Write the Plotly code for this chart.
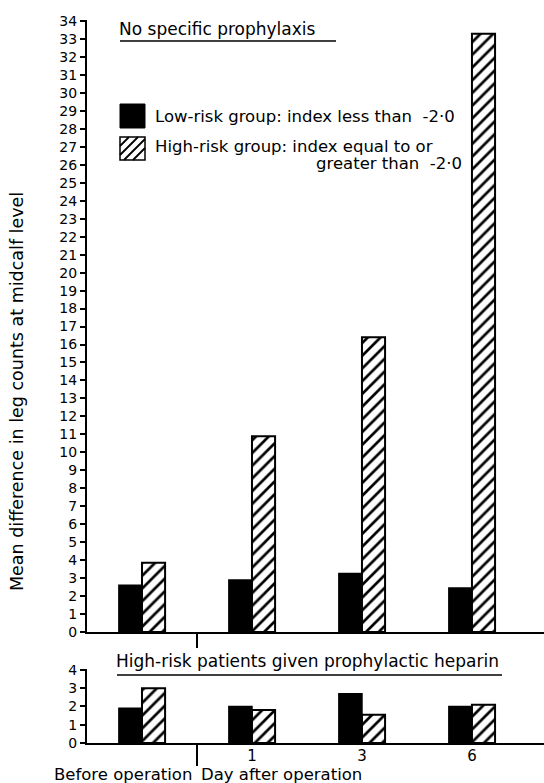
import plotly.graph_objects as go

# ---- data ----
categories = ["Before operation", "1", "3", "6"]
day_labels = ["1", "3", "6"]
low_risk_no_prophylaxis = [2.6, 2.9, 3.25, 2.45]
high_risk_no_prophylaxis = [3.85, 10.9, 16.4, 33.3]
low_risk_heparin = [1.9, 2.0, 2.7, 2.0]
high_risk_heparin = [3.0, 1.8, 1.55, 2.1]

W, H = 544, 783
FONT = "DejaVu Sans"


def px(x):
    return x / W


def py(y):
    return 1 - y / H


xpos = list(range(len(categories)))

hatch = dict(shape="/", fgcolor="black", bgcolor="white", size=9, solidity=0.3)

fig = go.Figure()
fig.add_trace(go.Bar(x=xpos, y=low_risk_no_prophylaxis, xaxis="x", yaxis="y",
                     marker=dict(color="black", line=dict(color="black", width=1.5)),
                     offsetgroup="low", name="Low-risk"))
fig.add_trace(go.Bar(x=xpos, y=high_risk_no_prophylaxis, xaxis="x", yaxis="y",
                     marker=dict(color="white", line=dict(color="black", width=2), pattern=hatch),
                     offsetgroup="high", name="High-risk"))
fig.add_trace(go.Bar(x=xpos, y=low_risk_heparin, xaxis="x2", yaxis="y2",
                     marker=dict(color="black", line=dict(color="black", width=1.5)),
                     offsetgroup="low", name="Low-risk"))
fig.add_trace(go.Bar(x=xpos, y=high_risk_heparin, xaxis="x2", yaxis="y2",
                     marker=dict(color="white", line=dict(color="black", width=2), pattern=hatch),
                     offsetgroup="high", name="High-risk"))

xrange = [-0.5, 3.655]
axis_common = dict(showline=True, linecolor="black", linewidth=2, showgrid=False,
                   zeroline=False, automargin=False)

fig.update_layout(
    template="none",
    width=W, height=H,
    margin=dict(l=0, r=0, t=0, b=0, pad=0, autoexpand=False),
    paper_bgcolor="white", plot_bgcolor="white",
    showlegend=False,
    barmode="group", bargap=0.58, bargroupgap=0,
    font=dict(family=FONT, color="black", size=15),
    xaxis=dict(domain=[px(87), 1], range=xrange, anchor="y", showticklabels=False,
               ticks="", **axis_common),
    yaxis=dict(domain=[py(632), py(20)], range=[0, 34.06], anchor="x",
               tickmode="linear", tick0=0, dtick=1, ticks="outside", ticklen=5,
               tickwidth=2, tickcolor="black", tickfont=dict(size=14), **axis_common),
    xaxis2=dict(domain=[px(87), 1], range=xrange, anchor="y2",
                tickmode="array", tickvals=xpos[1:], ticktext=day_labels,
                ticks="", tickfont=dict(size=15), ticklabelstandoff=-2, **axis_common),
    yaxis2=dict(domain=[py(743), py(669)], range=[0, 4.05], anchor="x2",
                tickmode="linear", tick0=0, dtick=1, ticks="outside", ticklen=5,
                tickwidth=2, tickcolor="black", tickfont=dict(size=14), **axis_common),
)

shapes = []
# divider ticks between "before operation" and days after
shapes.append(dict(type="line", xref="x", yref="paper", x0=0.5, x1=0.5,
                   y0=py(632), y1=py(648), line=dict(color="black", width=2)))
shapes.append(dict(type="line", xref="x2", yref="paper", x0=0.5, x1=0.5,
                   y0=py(743), y1=py(766), line=dict(color="black", width=2)))
# title underlines
shapes.append(dict(type="line", xref="paper", yref="paper", x0=px(120), x1=px(336),
                   y0=py(41), y1=py(41), line=dict(color="black", width=1.5)))
shapes.append(dict(type="line", xref="paper", yref="paper", x0=px(117), x1=px(502),
                   y0=py(675), y1=py(675), line=dict(color="black", width=1.5)))
# legend: solid box
shapes.append(dict(type="rect", xref="paper", yref="paper", x0=px(120), x1=px(145),
                   y0=py(128), y1=py(104), fillcolor="black", line=dict(color="black", width=1)))
# legend: hatched box
bx0, bx1, by0, by1 = 120, 145, 137, 160
shapes.append(dict(type="rect", xref="paper", yref="paper", x0=px(bx0), x1=px(bx1),
                   y0=py(by1), y1=py(by0), fillcolor="white", line=dict(color="black", width=1.5)))
path = ""
for k in range(1, 5):
    xs = bx0 + k * 9
    sx, sy = xs - (by1 - by0), by1
    ex, ey = xs, by0
    if sx < bx0:
        sy = sy - (bx0 - sx)
        sx = bx0
    if ex > bx1:
        ey = ey + (ex - bx1)
        ex = bx1
    path += f"M{px(sx)},{py(sy)} L{px(ex)},{py(ey)} "
shapes.append(dict(type="path", xref="paper", yref="paper", path=path,
                   line=dict(color="black", width=1.8)))
fig.update_layout(shapes=shapes)

ann = []


def add_text(text, x, y, anchor="left", size=15, angle=0):
    ann.append(dict(text=text, xref="paper", yref="paper", x=px(x), y=py(y),
                    xanchor=anchor, yanchor="middle", showarrow=False, textangle=angle,
                    borderpad=0, font=dict(size=size)))


add_text("No specific prophylaxis", 118, 29, size=17)
add_text("High-risk patients given prophylactic heparin", 115, 661, size=17)
add_text("Low-risk group: index less than  -2·0", 154, 116, size=16.5)
add_text("High-risk group: index equal to or", 154, 146, size=16.5)
add_text("greater than  -2·0", 463, 163, anchor="right", size=16.5)
add_text("Mean difference in leg counts at midcalf level", 17, 392, anchor="center",
         size=17.5, angle=-90)
add_text("Before operation", 193, 774, anchor="right", size=16.5)
add_text("Day after operation", 200, 774, size=16.5)
fig.update_layout(annotations=ann)

fig.write_html("out.html", config={"displayModeBar": False},
               post_script="document.body.style.margin='0';")
